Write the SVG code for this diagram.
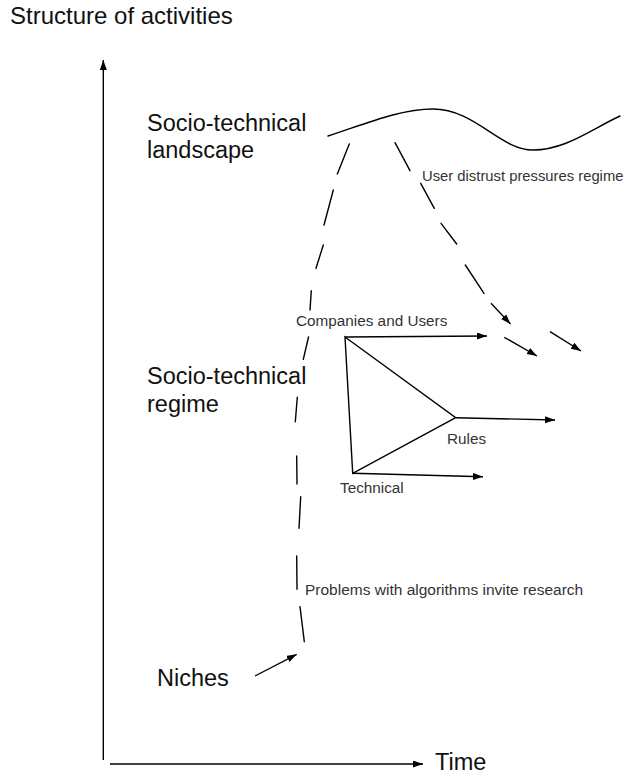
<svg xmlns="http://www.w3.org/2000/svg" width="634" height="776" viewBox="0 0 634 776">
<defs>
<marker id="ah" markerUnits="userSpaceOnUse" markerWidth="11" markerHeight="8" refX="10" refY="3.5" orient="auto">
<path d="M0,0 L10,3.5 L0,7 z" fill="#000"/>
</marker>
<style>
.big{font-family:"Liberation Sans",Arial,sans-serif;font-size:23.5px;fill:#111}
.sm{font-family:"Liberation Sans",Arial,sans-serif;font-size:15.3px;fill:#333}
.ln{stroke:#000;stroke-width:1.4;fill:none;stroke-linecap:round}
.ar{stroke:#000;stroke-width:1.4;fill:none;marker-end:url(#ah)}
</style>
</defs>
<rect width="634" height="776" fill="#fff"/>
<g id="axis-label-y"><text class="big" x="10" y="24" style="font-size:24px">Structure of activities</text></g>
<g id="axis-label-x"><text class="big" x="435" y="770">Time</text></g>
<g id="landscape-label"><text class="big" x="147" y="131">Socio-technical</text><text class="big" x="147" y="158">landscape</text></g>
<g id="regime-label"><text class="big" x="147" y="384">Socio-technical</text><text class="big" x="147" y="412">regime</text></g>
<g id="niches-label"><text class="big" x="157" y="686">Niches</text></g>
<g id="landscape-curve"><path class="ln" d="M328,136 C 365,124 400,109 433,109 C 475,109 500,150 533,150 C 565,150 590,130 620,116"/></g>
<g id="user-distrust"><text class="sm" x="422" y="181" style="font-size:14.8px">User distrust pressures regime</text></g>
<g id="companies"><text class="sm" x="296" y="326">Companies and Users</text></g>
<g id="rules"><text class="sm" x="447" y="444">Rules</text></g>
<g id="technical"><text class="sm" x="340" y="493">Technical</text></g>
<g id="problems"><text class="sm" x="305" y="595" style="font-size:15.5px">Problems with algorithms invite research</text></g>
<g id="triangle"><path class="ln" d="M345,337 L455.7,417.7 L352.7,473.3 Z"/></g>
<g id="connectors">
<line class="ar" x1="103.3" y1="760" x2="103.3" y2="60"/>
<line class="ar" x1="110" y1="764" x2="423" y2="764"/>
<line class="ar" x1="345" y1="337" x2="487" y2="336"/>
<line class="ar" x1="455.7" y1="417.7" x2="555" y2="420"/>
<line class="ar" x1="352.7" y1="473.3" x2="483" y2="476.7"/>
<line class="ar" x1="255" y1="676" x2="296.7" y2="654.3"/>
<g class="ln">
<line x1="349.3" y1="144" x2="337.3" y2="174"/>
<line x1="333.3" y1="190" x2="324" y2="225"/>
<line x1="323.3" y1="245" x2="316" y2="268.3"/>
<line x1="311.3" y1="290.7" x2="310" y2="310"/>
<line x1="308.5" y1="337" x2="303.3" y2="359.3"/>
<line x1="297.3" y1="397.3" x2="295.3" y2="421.7"/>
<line x1="296.7" y1="456" x2="297" y2="484"/>
<line x1="300.7" y1="496.7" x2="299" y2="528.3"/>
<line x1="296.7" y1="556" x2="297" y2="589.3"/>
<line x1="300" y1="606.7" x2="304.3" y2="641.7"/>
<line x1="395" y1="142.7" x2="410" y2="170.7"/>
<line x1="420.7" y1="183.3" x2="434.3" y2="208.3"/>
<line x1="441" y1="223.3" x2="456.7" y2="244"/>
<line x1="465.3" y1="265" x2="484" y2="293.3"/>
</g>
<line class="ar" x1="491" y1="303.3" x2="510.5" y2="324"/>
<line class="ar" x1="504.3" y1="337.3" x2="537" y2="356"/>
<line class="ar" x1="550" y1="331.7" x2="581" y2="351"/>
</g>
</svg>
